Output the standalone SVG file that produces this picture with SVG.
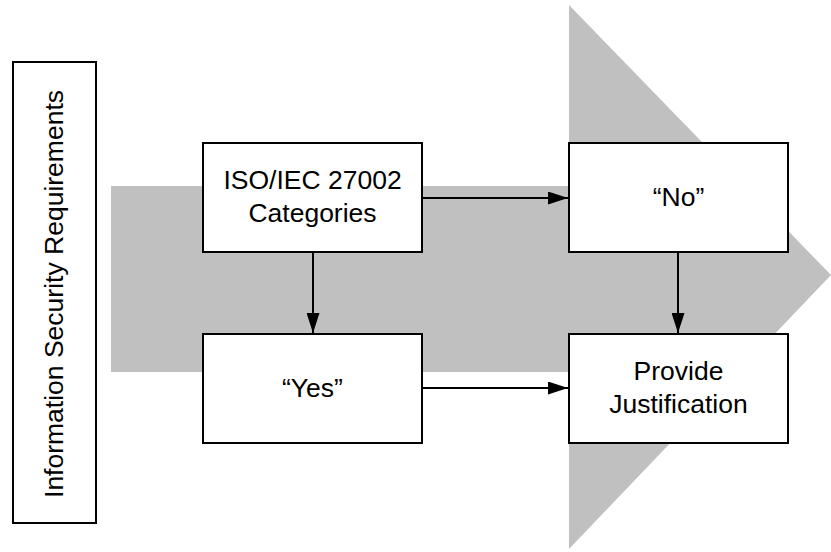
<svg xmlns="http://www.w3.org/2000/svg" width="831" height="552" viewBox="0 0 831 552">
  <style>
    .box { fill: #ffffff; stroke: #000000; stroke-width: 2; }
    .lbl { font-family: "Liberation Sans", Arial, sans-serif; font-size: 26.5px; fill: #000000; text-anchor: middle; }
    .edge { stroke: #000000; stroke-width: 2; fill: none; marker-end: url(#head); }
  </style>
  <defs>
    <marker id="head" viewBox="0 0 20 13" refX="20" refY="6.5" markerWidth="20" markerHeight="13" markerUnits="userSpaceOnUse" orient="auto">
      <path d="M0,0 L20,6.5 L0,13 Z" fill="#000000"/>
    </marker>
  </defs>

  <!-- large background arrow -->
  <polygon id="flow-arrow" points="111,186 569,186 569,5 831,275 569,549 569,372 111,372" fill="#c0c0c0"/>

  <g id="requirements">
    <rect class="box" x="13" y="62" width="83" height="461"/>
    <text class="lbl" transform="translate(63,294) rotate(-90)">Information Security Requirements</text>
  </g>

  <g id="categories">
    <rect class="box" x="203" y="143" width="219" height="109"/>
    <text class="lbl" x="312.5" y="189">ISO/IEC 27002</text>
    <text class="lbl" x="312.5" y="222">Categories</text>
  </g>

  <g id="yes">
    <rect class="box" x="203" y="334" width="219" height="109"/>
    <text class="lbl" x="312.5" y="397">“Yes”</text>
  </g>

  <g id="no">
    <rect class="box" x="569" y="143" width="219" height="109"/>
    <text class="lbl" x="678.5" y="206">“No”</text>
  </g>

  <g id="justification">
    <rect class="box" x="569" y="334" width="219" height="109"/>
    <text class="lbl" x="678.5" y="380">Provide</text>
    <text class="lbl" x="678.5" y="413">Justification</text>
  </g>

  <g id="connectors">
    <line class="edge" x1="313" y1="252" x2="313" y2="333"/>
    <line class="edge" x1="422" y1="198" x2="568" y2="198"/>
    <line class="edge" x1="678" y1="252" x2="678" y2="333"/>
    <line class="edge" x1="422" y1="388" x2="568" y2="388"/>
  </g>
</svg>
